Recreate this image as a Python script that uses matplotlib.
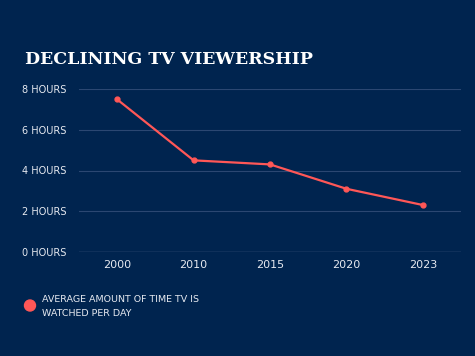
import matplotlib
matplotlib.use("Agg")
import matplotlib.pyplot as plt
from matplotlib.patches import Ellipse

# Data
years = ["2000", "2010", "2015", "2020", "2023"]
hours = [7.5, 4.5, 4.3, 3.1, 2.3]
ytick_vals = [0, 2, 4, 6, 8]
ytick_labels = ["%d HOURS" % v for v in ytick_vals]

bg = "#00244f"
red = "#ff5757"
grid_c = "#2b4772"
txt = "#e6e9f0"

fig = plt.figure(figsize=(4.75, 3.56), dpi=100)
fig.patch.set_facecolor(bg)
ax = fig.add_axes([79/475, 1-251.7/356, 382/475, (251.7-89.3)/356])
ax.set_facecolor(bg)

x = list(range(len(years)))
ax.plot(x, hours, color=red, lw=1.6, marker="o", ms=3.5, zorder=3)

ax.set_xlim(-0.5, len(years) - 0.5)
ax.set_ylim(0, 8)
ax.set_xticks(x)
ax.set_xticklabels(years, color=txt, fontsize=8, family="DejaVu Sans")
ax.set_yticks(ytick_vals)
ax.set_yticklabels(ytick_labels, color=txt, fontsize=7, family="DejaVu Sans")
ax.tick_params(length=0, pad=9)
ax.tick_params(axis="x", pad=6)
for s in ax.spines.values():
    s.set_visible(False)
ax.grid(axis="y", color=grid_c, lw=0.8)
ax.axhline(0, color="#4a6186", lw=1, zorder=1)

fig.text(25/475, 1-64/356, "DECLINING TV VIEWERSHIP", color="white",
         fontsize=12.5, fontweight="heavy", family="DejaVu Serif",
         va="baseline")

# legend
fig.patches.append(Ellipse((30/475, 1-305.5/356), 11/475, 11/356,
                           transform=fig.transFigure, color=red, figure=fig))
fig.text(42/475, 1-300/356, "AVERAGE AMOUNT OF TIME TV IS", color=txt,
         fontsize=6.8, va="center", family="DejaVu Sans")
fig.text(42/475, 1-314/356, "WATCHED PER DAY", color=txt,
         fontsize=6.8, va="center", family="DejaVu Sans")

fig.savefig("out.png", dpi=100, facecolor=bg)
